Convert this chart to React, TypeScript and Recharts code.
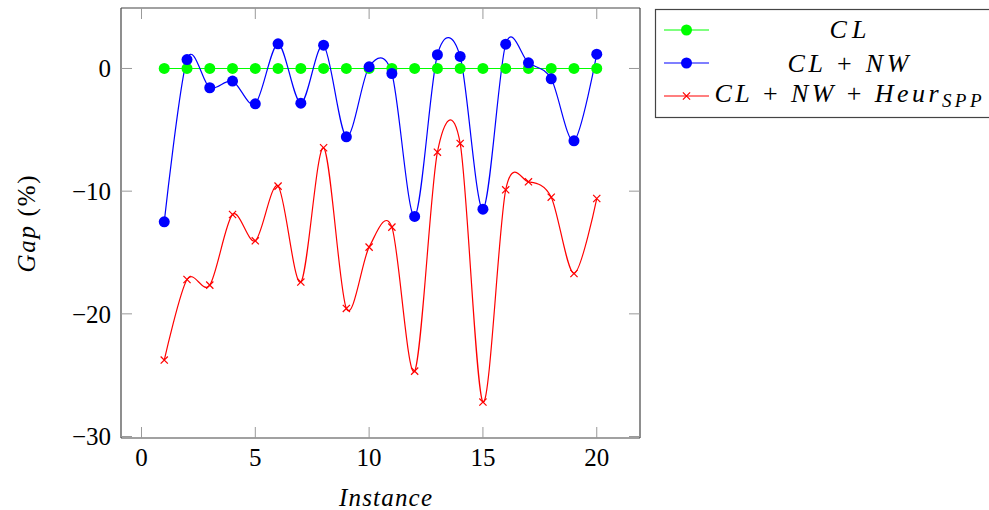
import React from 'react';
import { LineChart, Line, XAxis, YAxis } from 'recharts';

const instances = [1, 2, 3, 4, 5, 6, 7, 8, 9, 10, 11, 12, 13, 14, 15, 16, 17, 18, 19, 20];
const gapCL = [0, 0, 0, 0, 0, 0, 0, 0, 0, 0, 0, 0, 0, 0, 0, 0, 0, 0, 0, 0];
const gapCLNW = [-12.5, 0.73, -1.57, -1.03, -2.88, 2.01, -2.83, 1.9, -5.57, 0.14, -0.41, -12.06, 1.12, 0.98, -11.47, 1.98, 0.46, -0.84, -5.9, 1.17];
const gapHeur = [-23.77, -17.2, -17.66, -11.9, -14.05, -9.59, -17.41, -6.46, -19.56, -14.56, -12.93, -24.67, -6.82, -6.11, -27.19, -9.89, -9.24, -10.49, -16.71, -10.6];
const xTicks = [0, 5, 10, 15, 20];
const yTicks = [-30, -20, -10, 0];

const data = instances.map((x, i) => ({ x, cl: gapCL[i], nw: gapCLNW[i], heur: gapHeur[i] }));

const FONT = "'Liberation Serif', 'DejaVu Serif', serif";
const FS = 25;
const TENSION = 0.2775 * 0.55;
const X_DOMAIN = [-0.9, 21.9];
const Y_DOMAIN = [-30.12, 4.93];

function tikzSmooth(context: any) {
  let pts: number[][] = [];
  return {
    areaStart() {},
    areaEnd() {},
    lineStart() {
      pts = [];
    },
    point(x: number, y: number) {
      pts.push([+x, +y]);
    },
    lineEnd() {
      const n = pts.length;
      if (!n) return;
      context.moveTo(pts[0][0], pts[0][1]);
      for (let i = 0; i < n - 1; i++) {
        const p0 = pts[i];
        const p1 = pts[i + 1];
        const pm = i > 0 ? pts[i - 1] : p0;
        const pp = i + 2 < n ? pts[i + 2] : p1;
        const c1 = i > 0 ? [p0[0] + TENSION * (p1[0] - pm[0]), p0[1] + TENSION * (p1[1] - pm[1])] : p0;
        const c2 = i + 2 < n ? [p1[0] - TENSION * (pp[0] - p0[0]), p1[1] - TENSION * (pp[1] - p0[1])] : p1;
        context.bezierCurveTo(c1[0], c1[1], c2[0], c2[1], p1[0], p1[1]);
      }
    },
  };
}

const fmt = (v: number) => (v < 0 ? '\u2212' + Math.abs(v) : String(v));

const EmptyTick = () => <g />;

const CrossDot = (props: any) => {
  const { cx, cy, index } = props;
  if (cx == null || cy == null) return <g key={'cx' + index} />;
  const s = 3.6;
  return (
    <path
      key={'cx' + index}
      d={`M${cx - s},${cy - s}L${cx + s},${cy + s}M${cx - s},${cy + s}L${cx + s},${cy - s}`}
      stroke="#ff0000"
      strokeWidth={1.2}
      fill="none"
    />
  );
};

const YLabel = (props: any) => {
  const vb = props.viewBox || { x: 0, y: 8, width: 121, height: 430 };
  const cx = vb.x + 35;
  const cy = vb.y + vb.height / 2 + 1;
  return (
    <text
      x={cx}
      y={cy}
      transform={`rotate(-90, ${cx}, ${cy})`}
      textAnchor="middle"
      fontFamily={FONT}
      fontSize={FS}
      fill="#000"
      textLength={97}
      lengthAdjust="spacing"
    >
      <tspan fontStyle="italic">Gap</tspan>
      <tspan> (%)</tspan>
    </text>
  );
};

const XLabel = (props: any) => {
  const vb = props.viewBox || { x: 121, y: 438, width: 519, height: 72 };
  return (
    <text
      x={vb.x + vb.width / 2 + 5}
      y={vb.y + 68}
      textAnchor="middle"
      fontFamily={FONT}
      fontSize={FS}
      fontStyle="italic"
      textLength={93}
      lengthAdjust="spacing"
      fill="#000"
    >
      Instance
    </text>
  );
};

const Legend = () => {
  const rows = [
    { y: 21, color: '#00ff00', kind: 'dot' },
    { y: 54, color: '#0000ff', kind: 'dot' },
    { y: 87, color: '#ff0000', kind: 'cross' },
  ];
  const tx = 193;
  return (
    <svg
      width={340}
      height={112}
      style={{ position: 'absolute', left: 655, top: 9, overflow: 'visible' }}
    >
      <rect x={0.5} y={0.5} width={340} height={108} fill="#fff" stroke="#444" strokeWidth={1.2} />
      {rows.map((r, i) => (
        <g key={i}>
          <line x1={9} x2={54} y1={r.y} y2={r.y} stroke={r.color} strokeWidth={1.2} />
          {r.kind === 'dot' ? (
            <circle cx={31.5} cy={r.y} r={5.5} fill={r.color} />
          ) : (
            <path
              d={`M${31.5 - 3.6},${r.y - 3.6}L${31.5 + 3.6},${r.y + 3.6}M${31.5 - 3.6},${r.y + 3.6}L${31.5 + 3.6},${r.y - 3.6}`}
              stroke={r.color}
              strokeWidth={1.2}
            />
          )}
        </g>
      ))}
      <text x={tx} y={28.5} textAnchor="middle" fontFamily={FONT} fontSize={26} fill="#000" textLength={37} lengthAdjust="spacing">
        <tspan fontStyle="italic">CL</tspan>
      </text>
      <text x={tx} y={62.5} textAnchor="middle" fontFamily={FONT} fontSize={26} fill="#000" textLength={121} lengthAdjust="spacing">
        <tspan fontStyle="italic">CL</tspan>
        <tspan> + </tspan>
        <tspan fontStyle="italic">NW</tspan>
      </text>
      <text x={tx} y={92.5} textAnchor="middle" fontFamily={FONT} fontSize={26} fill="#000" textLength={267} lengthAdjust="spacing">
        <tspan fontStyle="italic">CL</tspan>
        <tspan> + </tspan>
        <tspan fontStyle="italic">NW</tspan>
        <tspan> + </tspan>
        <tspan fontStyle="italic">Heur</tspan>
        <tspan fontStyle="italic" fontSize={19} dy={5}>SPP</tspan>
      </text>
    </svg>
  );
};

export default function App() {
  const tickStyle = { fill: '#000', fontSize: FS, fontFamily: FONT };
  return (
    <div style={{ position: 'absolute', left: 0, top: 0, width: 989, height: 510, background: '#fff' }}>
      <LineChart
        width={989}
        height={510}
        data={data}
        margin={{ top: 7, right: 348, bottom: 0, left: 0 }}
      >
        <XAxis
          dataKey="x"
          type="number"
          domain={X_DOMAIN}
          ticks={xTicks}
          tickFormatter={fmt}
          height={72}
          tickSize={-11}
          tickMargin={21}
          tick={tickStyle}
          tickLine={{ stroke: '#999', strokeWidth: 1 }}
          axisLine={{ stroke: '#444', strokeWidth: 1.2 }}
          label={<XLabel />}
        />
        <XAxis
          xAxisId="top"
          orientation="top"
          dataKey="x"
          type="number"
          domain={X_DOMAIN}
          ticks={xTicks}
          height={1}
          tickSize={-11}
          tick={EmptyTick}
          tickLine={{ stroke: '#999', strokeWidth: 1 }}
          axisLine={{ stroke: '#444', strokeWidth: 1.2 }}
        />
        <YAxis
          type="number"
          domain={Y_DOMAIN}
          ticks={yTicks}
          tickFormatter={fmt}
          width={121}
          tickSize={-11}
          tickMargin={21}
          tick={tickStyle}
          tickLine={{ stroke: '#999', strokeWidth: 1 }}
          axisLine={{ stroke: '#444', strokeWidth: 1.2 }}
          label={<YLabel />}
        />
        <YAxis
          yAxisId="right"
          orientation="right"
          type="number"
          domain={Y_DOMAIN}
          ticks={yTicks}
          width={1}
          tickSize={-11}
          tick={EmptyTick}
          tickLine={{ stroke: '#999', strokeWidth: 1 }}
          axisLine={{ stroke: '#444', strokeWidth: 1.2 }}
        />
        <Line
          xAxisId="top"
          yAxisId="right"
          dataKey="cl"
          type={tikzSmooth as any}
          stroke="#00ff00"
          strokeWidth={1.2}
          dot={{ r: 5.5, fill: '#00ff00', stroke: 'none' }}
          isAnimationActive={false}
        />
        <Line
          dataKey="nw"
          type={tikzSmooth as any}
          stroke="#0000ff"
          strokeWidth={1.2}
          dot={{ r: 5.5, fill: '#0000ff', stroke: 'none' }}
          isAnimationActive={false}
        />
        <Line
          dataKey="heur"
          type={tikzSmooth as any}
          stroke="#ff0000"
          strokeWidth={1.2}
          dot={CrossDot}
          isAnimationActive={false}
        />
      </LineChart>
      <Legend />
    </div>
  );
}
